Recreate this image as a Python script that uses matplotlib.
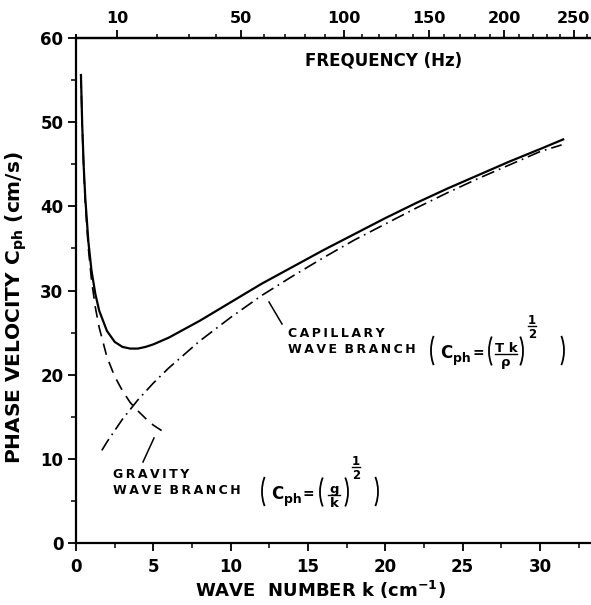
import numpy as np
import matplotlib
matplotlib.use("Agg")
import matplotlib.pyplot as plt
from matplotlib.ticker import MultipleLocator
from matplotlib.patches import Arc
from matplotlib.lines import Line2D
from matplotlib.transforms import IdentityTransform

# ---- data ----
k_total = [0.32, 0.4, 0.5, 0.6, 0.8, 1.0, 1.25, 1.5, 2.0, 2.5, 3.0, 3.5, 4.0, 4.5, 5.0,
           6.0, 7.0, 8.0, 10.0, 12.0, 14.0, 16.0, 18.0, 20.0, 22.0, 24.0, 26.0, 28.0, 30.0, 31.5]
c_total = [55.6, 49.8, 44.7, 41.0, 35.8, 32.4, 29.6, 27.6, 25.2, 23.9, 23.3, 23.1, 23.1, 23.3, 23.6,
           24.4, 25.4, 26.4, 28.6, 30.8, 32.8, 34.8, 36.7, 38.6, 40.4, 42.1, 43.7, 45.3, 46.8, 47.95]

k_gravity = [0.32, 0.4, 0.5, 0.6, 0.8, 1.0, 1.25, 1.5, 2.0, 2.5, 3.0, 3.5, 4.0, 4.5, 5.0, 5.5, 5.9]
c_gravity = [55.4, 49.5, 44.3, 40.4, 35.0, 31.3, 28.0, 25.6, 22.1, 19.8, 18.1, 16.7, 15.7, 14.8, 14.0, 13.4, 12.9]

k_capillary = [1.67, 2.0, 3.0, 4.0, 5.0, 6.0, 8.0, 10.0, 12.0, 14.0, 16.0, 18.0, 20.0, 22.0,
               24.0, 26.0, 28.0, 30.0, 31.4]
c_capillary = [11.0, 12.0, 14.7, 17.0, 19.0, 20.8, 24.0, 26.8, 29.4, 31.7, 33.9, 36.0, 37.9, 39.8,
               41.6, 43.3, 44.9, 46.5, 47.3]

x_ticks = [0, 5, 10, 15, 20, 25, 30]
y_ticks = [0, 10, 20, 30, 40, 50, 60]
freq_ticks = [10, 50, 100, 150, 200, 250]

plt.rcParams['font.family'] = ['DejaVu Sans']
plt.rcParams['font.weight'] = 'bold'
plt.rcParams['mathtext.fontset'] = 'custom'
plt.rcParams['mathtext.rm'] = 'DejaVu Sans:bold'
plt.rcParams['mathtext.it'] = 'DejaVu Sans:bold'
plt.rcParams['mathtext.bf'] = 'DejaVu Sans:bold'
plt.rcParams['mathtext.sf'] = 'DejaVu Sans:bold'

W, H = 591, 605
fig = plt.figure(figsize=(W / 100, H / 100), dpi=100)
ax = fig.add_axes([76 / W, 1 - 543 / H, 1 - 76 / W, (543 - 38) / H])

ax.plot(k_total, c_total, color='black', lw=1.6)
ax.plot(k_gravity, c_gravity, color='black', lw=1.2, dashes=(7, 4.5))
ax.plot(k_capillary, c_capillary, color='black', lw=1.2, dashes=(8, 3, 1, 3))

ax.set_xlim(0, 33.3)
ax.set_ylim(0, 60)
ax.set_xticks(x_ticks)
ax.set_yticks(y_ticks)
ax.xaxis.set_minor_locator(MultipleLocator(2.5))
ax.yaxis.set_minor_locator(MultipleLocator(5))
ax.tick_params(which='major', direction='out', length=5.5, width=1.3, labelsize=12, colors='black')
ax.tick_params(which='minor', direction='out', length=3.5, width=1.1)
ax.tick_params(axis='x', which='major', pad=5)
ax.tick_params(axis='y', which='major', pad=3.5)

ax.spines['right'].set_visible(False)
for s in ['left', 'bottom', 'top']:
    ax.spines[s].set_linewidth(1.6)

# top frequency axis (library secondary axis with k <-> f conversion)
def k2f(k):
    k = np.clip(np.asarray(k, dtype=float), 0, None)
    return np.sqrt(981.0 * k + 73.0 * k**3) / (2 * np.pi)

_kg = np.linspace(0, 60, 6001)
_fg = k2f(_kg)
def f2k(f):
    return np.interp(f, _fg, _kg)

sec = ax.secondary_xaxis('top', functions=(k2f, f2k))
sec.set_xticks(freq_ticks)
sec.xaxis.set_minor_locator(MultipleLocator(10))
sec.tick_params(which='major', direction='out', length=5.5, width=1.3, labelsize=11.5, pad=3)
sec.tick_params(which='minor', direction='out', length=3, width=1.1)
sec.spines['top'].set_linewidth(1.6)


def P(x, y):
    return (x / W, 1 - y / H)


# axis titles
fig.text(*P(16, 308), 'PHASE VELOCITY C$_{\\mathregular{ph}}$ (cm/s)', rotation=90,
         fontsize=14.5, ha='center', va='center')
fig.text(*P(320, 597), 'WAVE  NUMBER k (cm$^{-1}$)', fontsize=13, ha='center', va='baseline')
fig.text(*P(305, 66), 'FREQUENCY (Hz)', fontsize=12, ha='left', va='baseline')

# annotations
hs = '\u2009'
def spaced(s):
    return hs.join(list(s))

fig.text(*P(288, 337), spaced('CAPILLARY'), fontsize=9, ha='left', va='baseline')
fig.text(*P(288, 353), spaced('WAVE') + hs * 3 + spaced('BRANCH'), fontsize=9, ha='left', va='baseline')
fig.text(*P(113, 478), spaced('GRAVITY'), fontsize=9, ha='left', va='baseline')
fig.text(*P(113, 494), spaced('WAVE') + hs * 3 + spaced('BRANCH'), fontsize=9, ha='left', va='baseline')

def seg(x1, y1, x2, y2, lw=1.1):
    fig.add_artist(Line2D([x1 / W, x2 / W], [1 - y1 / H, 1 - y2 / H], color='black', lw=lw,
                          transform=fig.transFigure))

seg(269, 302, 282, 324)
seg(143, 462, 154, 438)

def paren(x, ytop, ybot, side, bulge=5.5, th=55.0):
    h = ybot - ytop
    b = h / (2 * np.sin(np.radians(th)))
    a = bulge / (1 - np.cos(np.radians(th)))
    cy = H - (ytop + ybot) / 2
    if side == 'l':
        cx = x + a
        t1, t2 = 180 - th, 180 + th
    else:
        cx = x - a
        t1, t2 = -th, th
    fig.add_artist(Arc((cx, cy), 2 * a, 2 * b, theta1=t1, theta2=t2, lw=1.3, color='black',
                       transform=IdentityTransform()))

def frac(xc, ybar, num, den, fs, half):
    fig.text(*P(xc, ybar - 2), num, fontsize=fs, ha='center', va='baseline')
    fig.text(*P(xc, ybar + 2), den, fontsize=fs, ha='center', va='top')
    seg(xc - half, ybar, xc + half, ybar, lw=1.0)

def formula(x0, yb, num, den, fw, r_inner, half_c, r_outer):
    # x0: left of outer paren, yb: baseline of C
    ytop, ybot = yb - 27, yb + 12
    paren(x0, ytop, ybot, 'l')
    fig.text(*P(x0 + 9, yb), 'C', fontsize=12, ha='left', va='baseline')
    fig.text(*P(x0 + 22, yb + 4), 'ph', fontsize=9, ha='left', va='baseline')
    fig.text(*P(x0 + 41, yb - 1), '=', fontsize=10, ha='left', va='baseline')
    xi = x0 + 58
    paren(xi, ytop + 1, ybot, 'l')
    fc = (xi + 6 + x0 + r_inner - 6) / 2
    frac(fc, yb - 4, num, den, 9.5, fw / 2 + 1)
    paren(x0 + r_inner, ytop + 1, ybot, 'r')
    frac(x0 + half_c, yb - 32, '1', '2', 8.5, 4)
    paren(x0 + r_outer, ytop, ybot, 'r')

formula(262, 499, 'g', 'k', 9, 86, 94, 116)
formula(431, 358, 'T k', '\u03c1', 20, 92, 101, 133)

fig.savefig('out.png', dpi=100)
